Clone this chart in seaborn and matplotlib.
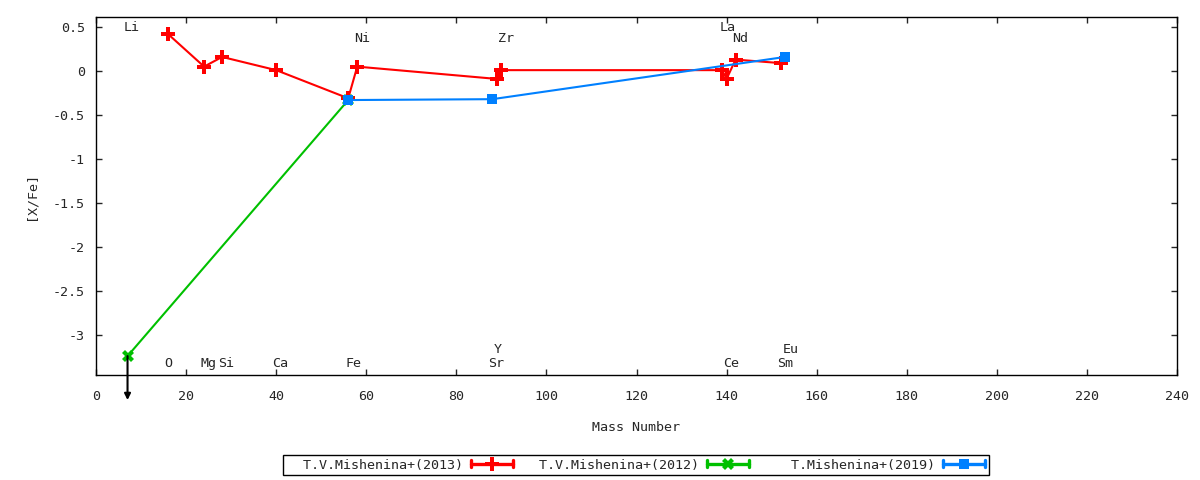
#!/usr/bin/env python3
"""[X/Fe] vs mass number, three Mishenina data sets -> out.png"""

import matplotlib

matplotlib.use("Agg")
import matplotlib.pyplot as plt
import pandas as pd
import seaborn as sns
from matplotlib.legend_handler import HandlerLine2D
from matplotlib.lines import Line2D

# --- data ---
mass_2013 = [16, 24, 28, 40, 56, 58, 89, 90, 139, 140, 142, 152]
xfe_2013 = [0.42, 0.05, 0.16, 0.01, -0.31, 0.05, -0.09, 0.01, 0.01, -0.09, 0.13, 0.09]

mass_2012 = [7, 56]
xfe_2012 = [-3.24, -0.33]

mass_2019 = [56, 88, 153]
xfe_2019 = [-0.33, -0.32, 0.16]

# element names and where their labels sit
elem_names = ["Li", "Ni", "Zr", "La", "Nd", "O", "Mg", "Si", "Ca", "Fe", "Sr", "Y", "Ce", "Sm", "Eu"]
elem_label_x = [8, 59, 91, 140.2, 143.1, 16, 24.9, 28.9, 40.9, 57.1, 88.9, 89.3, 140.9, 153.1, 154.2]
elem_label_y = [0.5, 0.375, 0.375, 0.5, 0.375, -3.32, -3.32, -3.32, -3.32, -3.32, -3.32, -3.16, -3.32, -3.32, -3.16]

labels = ["  T.V.Mishenina+(2013)", "  T.V.Mishenina+(2012)", "    T.Mishenina+(2019)"]

RED = "#ff0000"
GREEN = "#00c000"
BLUE = "#0080ff"
FONT = "DejaVu Sans Mono"
FS = 9.6

sns.set_style("ticks")
plt.rcParams["font.family"] = [FONT, "DejaVu Sans"]
plt.rcParams["font.size"] = FS


class CapLineHandler(HandlerLine2D):
    """legend sample like gnuplot's: line with end caps and a centre marker"""

    def create_artists(self, legend, orig_handle, xdescent, ydescent, width, height, fontsize, trans):
        arts = super().create_artists(legend, orig_handle, xdescent, ydescent, width, height, fontsize, trans)
        yc = height / 2 - ydescent
        h = height * 0.38
        for xx in (-xdescent, width - xdescent):
            cap = Line2D([xx, xx], [yc - h, yc + h], color=orig_handle.get_color(), lw=orig_handle.get_linewidth())
            cap.set_transform(trans)
            arts.append(cap)
        return arts


fig = plt.figure(figsize=(12, 4.8), dpi=100)
ax = fig.add_axes([96 / 1200, 1 - 375 / 480, (1177 - 96) / 1200, (375 - 17) / 480])

series = [
    (mass_2013, xfe_2013, RED, "P", 9.5),
    (mass_2012, xfe_2012, GREEN, "X", 8.5),
    (mass_2019, xfe_2019, BLUE, "s", 7),
]
handles = []
for (m, v, col, mk, ms), lab in zip(series, labels):
    d = pd.DataFrame({"mass": m, "xfe": v})
    sns.lineplot(
        data=d, x="mass", y="xfe", ax=ax, sort=False, estimator=None,
        color=col, marker=mk, markersize=ms, markeredgewidth=0, linewidth=1.5,
    )
    handles.append(Line2D([], [], color=col, marker=mk, markersize=ms, markeredgewidth=0, lw=2.4))

# upper limit arrow for Li
ax.annotate(
    "", xy=(mass_2012[0], -3.74), xytext=(mass_2012[0], xfe_2012[0]),
    arrowprops=dict(arrowstyle="-|>", color="black", lw=1.5, mutation_scale=9, shrinkA=0, shrinkB=0),
    annotation_clip=False, zorder=5,
)

for name, lx, ly in zip(elem_names, elem_label_x, elem_label_y):
    ax.text(lx, ly, name, ha="center", va="center", fontsize=FS, family=FONT)

ax.set_xlim(0, 240)
ax.set_ylim(-3.455, 0.614)
ax.set_xticks(range(0, 241, 20))
ax.set_yticks([0.5, 0, -0.5, -1, -1.5, -2, -2.5, -3])
ax.set_yticklabels(["0.5", "0", "-0.5", "-1", "-1.5", "-2", "-2.5", "-3"])
ax.tick_params(direction="in", top=True, right=True, length=4, width=1, labelsize=FS)
ax.tick_params(axis="x", pad=11)
ax.tick_params(axis="y", pad=8)
for sp in ax.spines.values():
    sp.set_color("black")
    sp.set_linewidth(1)
ax.set_xlabel("Mass Number", fontsize=FS, labelpad=13)
ax.set_ylabel("[X/Fe]", fontsize=FS, labelpad=11)

leg = fig.legend(
    handles, labels, loc="center", bbox_to_anchor=(636 / 1200, 1 - 465 / 480), ncol=3,
    markerfirst=False, frameon=True, fancybox=False, edgecolor="black", framealpha=1,
    borderpad=0.25, handlelength=3.2, handletextpad=0.6, columnspacing=0.7,
    prop={"family": FONT, "size": FS}, handler_map={Line2D: CapLineHandler()},
)
leg.get_frame().set_linewidth(1)

fig.savefig("out.png", dpi=100)
